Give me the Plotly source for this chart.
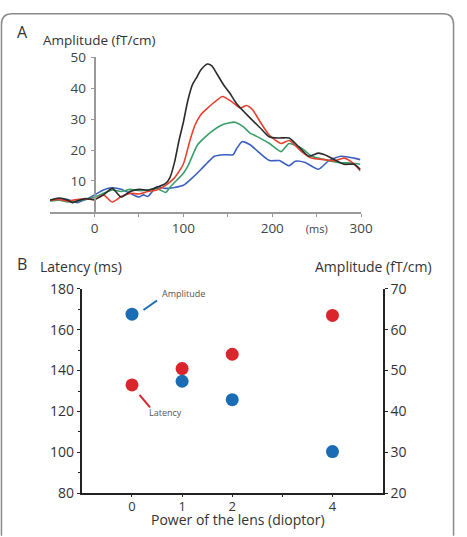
import plotly.graph_objects as go

# panel A: evoked responses (time in ms, amplitude in fT/cm)
t_black = [-50, -40, -30, -25, -20, -10, 0, 10, 20, 30, 40, 50, 60, 70, 80, 85, 90, 95, 100, 105, 110, 115, 120, 127,
           132, 137, 145, 152, 160, 175, 186, 197, 208, 219, 230, 241, 252, 259, 270, 281, 292, 299]
v_black = [3.8, 4.5, 3.8, 3.0, 3.5, 4.3, 4.0, 5.5, 7.6, 4.8, 6.6, 7.3, 7.0, 7.9, 9.2, 11.2, 16.0, 23.0, 29.0, 36.0, 41.0, 43.5, 46.0, 47.8,
           47.2, 45.0, 41.2, 38.5, 35.0, 30.4, 27.3, 24.2, 23.9, 23.9, 21.0, 18.0, 19.0, 18.5, 16.9, 15.4, 15.4, 13.8]

t_red = [-50, -40, -30, -20, -10, 0, 10, 20, 30, 40, 50, 60, 70, 80, 90, 100, 107, 113, 120, 125, 135, 144, 155, 164, 171,
         178, 186, 197, 210, 219, 233, 244, 259, 270, 281, 292, 299]
v_red = [3.8, 4.0, 3.5, 4.0, 4.2, 4.0, 5.5, 3.2, 5.0, 6.0, 5.8, 6.6, 7.1, 8.6, 11.0, 15.5, 22.7, 28.0, 31.6, 33.0, 35.5, 37.3, 35.5, 33.6, 34.4,
         33.0, 29.3, 24.7, 22.1, 23.1, 19.5, 17.4, 16.9, 16.5, 17.4, 15.5, 13.3]

t_green = [-50, -40, -30, -20, -10, 0, 10, 20, 30, 40, 50, 60, 70, 80, 85, 90, 100, 106, 116, 131, 146, 158, 168, 175,
           182, 197, 210, 219, 233, 244, 259, 277, 290, 299]
v_green = [3.5, 3.8, 3.2, 3.5, 4.0, 4.8, 6.0, 7.1, 6.6, 7.3, 6.9, 7.1, 7.6, 6.3, 8.0, 9.5, 12.5, 15.4, 21.7, 25.8, 28.4, 29.0, 27.4, 25.5,
           24.5, 22.1, 19.5, 22.1, 20.6, 18.1, 16.9, 15.9, 15.8, 15.4]

t_blue = [-50, -40, -30, -20, -10, 0, 10, 20, 30, 40, 50, 55, 60, 70, 80, 90, 100, 110, 120, 127, 135, 146, 156, 160, 166,
          175, 186, 197, 208, 219, 226, 237, 252, 263, 277, 292, 299]
v_blue = [3.8, 4.2, 4.0, 3.0, 4.0, 5.5, 7.1, 7.8, 7.3, 6.0, 4.8, 5.5, 5.0, 8.1, 7.6, 7.9, 8.6, 11.0, 13.8, 15.9, 18.0, 18.5, 18.5, 20.5, 22.7,
          21.7, 19.0, 16.6, 16.6, 14.9, 16.4, 16.0, 13.8, 16.4, 18.0, 17.4, 16.9]

# panel B: lens power vs latency / amplitude
lens_power = [0, 1, 2, 4]
latency_ms = [133, 141, 148, 167]
amplitude_ft = [63.8, 47.4, 42.9, 30.2]

fnt = "Open Sans"
fig = go.Figure()

for t, v, c in [(t_blue, v_blue, "#3a5fc0"), (t_green, v_green, "#3a9e6a"),
                (t_red, v_red, "#e8412f"), (t_black, v_black, "#2b2b2b")]:
    fig.add_trace(go.Scatter(x=t, y=v, mode="lines", line=dict(color=c, width=1.6, shape="spline", smoothing=0.6),
                             xaxis="x", yaxis="y", showlegend=False))

fig.add_trace(go.Scatter(x=lens_power, y=latency_ms, mode="markers", marker=dict(color="#d9252b", size=13),
                         xaxis="x2", yaxis="y2", showlegend=False))
fig.add_trace(go.Scatter(x=lens_power, y=amplitude_ft, mode="markers", marker=dict(color="#1a6db5", size=13),
                         xaxis="x2", yaxis="y3", showlegend=False))

tickfont_a = dict(family=fnt, size=13.5, color="#444")
tickfont_b = dict(family=fnt, size=14, color="#333")

fig.update_layout(
    width=467, height=537,
    margin=dict(l=0, r=0, t=0, b=0),
    plot_bgcolor="white", paper_bgcolor="white",
    xaxis=dict(domain=[0.1101, 0.7936], range=[-50, 300], anchor="y",
               tickvals=[0, 50, 100, 150, 200, 250, 300],
               ticktext=["0", "", "100", "", "200", "<span style='font-size:11px'>(ms)</span>", "300"],
               showline=True, linecolor="#999", linewidth=1.5, ticks="outside", ticklen=3,
               tickcolor="#999", showgrid=False, zeroline=False, tickfont=tickfont_a),
    yaxis=dict(domain=[0.6102, 0.9088], range=[0, 50], anchor="free", position=97 / 467,
               tickvals=[10, 20, 30, 40, 50], showline=True, linecolor="#999", linewidth=1.5,
               ticks="outside", ticklen=3, tickcolor="#999", showgrid=False, zeroline=False,
               tickfont=tickfont_a, ticklabelstandoff=2),
    xaxis2=dict(domain=[0.1799, 0.8409], range=[-1, 5], anchor="y2",
                tickvals=[0, 1, 2, 3, 4], ticktext=["0", "1", "2", "", "4"],
                showline=True, linecolor="#222", linewidth=2, ticks="outside", ticklen=2,
                tickcolor="#222", showgrid=False, zeroline=False, ticklabelstandoff=-2,
                tickfont=dict(family=fnt, size=13, color="#333")),
    yaxis2=dict(domain=[0.067, 0.4618], range=[80, 180], anchor="x2", dtick=20,
                showline=True, linecolor="#222", linewidth=2, ticks="outside", ticklen=3,
                tickcolor="#222", showgrid=False, zeroline=False, tickfont=tickfont_b,
                minor=dict(dtick=10, ticks="outside", ticklen=2, tickcolor="#222")),
    yaxis3=dict(range=[20, 70], overlaying="y2", side="right", anchor="x2", dtick=10,
                showline=True, linecolor="#222", linewidth=2, ticks="outside", ticklen=3,
                tickcolor="#222", showgrid=False, zeroline=False, tickfont=tickfont_b),
)

def note(text, x, y, size, xref="paper", yref="paper", color="#333", yanchor="middle"):
    fig.add_annotation(text=text, x=x, y=y, xref=xref, yref=yref, showarrow=False, borderpad=0,
                       xanchor="center", yanchor=yanchor, font=dict(family=fnt, size=size, color=color))

note("A", 0.049, 0.958, 16)
note("Amplitude (fT/cm)", 0.2184, 0.9425, 13.5)
note("B", 0.049, 0.5102, 16)
note("Latency (ms)", 0.1777, 0.5047, 14)
note("Amplitude (fT/cm)", 0.8201, 0.5047, 14)
note("Power of the lens (dioptor)", 0.5225, -0.004, 14, yanchor="bottom")

# callouts for the two series
note("Amplitude", 1.02, 177.6, 9, xref="x2", yref="y2", color="#555")
note("Latency", 0.67, 119.6, 9, xref="x2", yref="y2", color="#555")
fig.add_shape(type="line", x0=0.23, y0=169.6, x1=0.5, y1=174.3, xref="x2", yref="y2",
              line=dict(color="#1a6db5", width=2))
fig.add_shape(type="line", x0=0.15, y0=128.1, x1=0.36, y1=122.0, xref="x2", yref="y2",
              line=dict(color="#d9252b", width=2))

# rounded frame around the figure
W, H = 467, 537
def px(x, y):
    return f"{x / W:.4f},{1 - y / H:.4f}"
frame = (f"M {px(1.5, 545)} L {px(1.5, 15)} Q {px(1.5, 4)} {px(12.5, 4)} "
         f"L {px(454.5, 4)} Q {px(465.5, 4)} {px(465.5, 15)} L {px(465.5, 545)}")
fig.add_shape(type="path", path=frame, xref="paper", yref="paper", line=dict(color="#8a8a8a", width=1.5))

# page body has a default margin; drop it so the figure sits at the window corner
fig.write_html("out.html", config={"displayModeBar": False},
               post_script="document.body.style.margin='0';document.body.style.overflow='hidden';")
